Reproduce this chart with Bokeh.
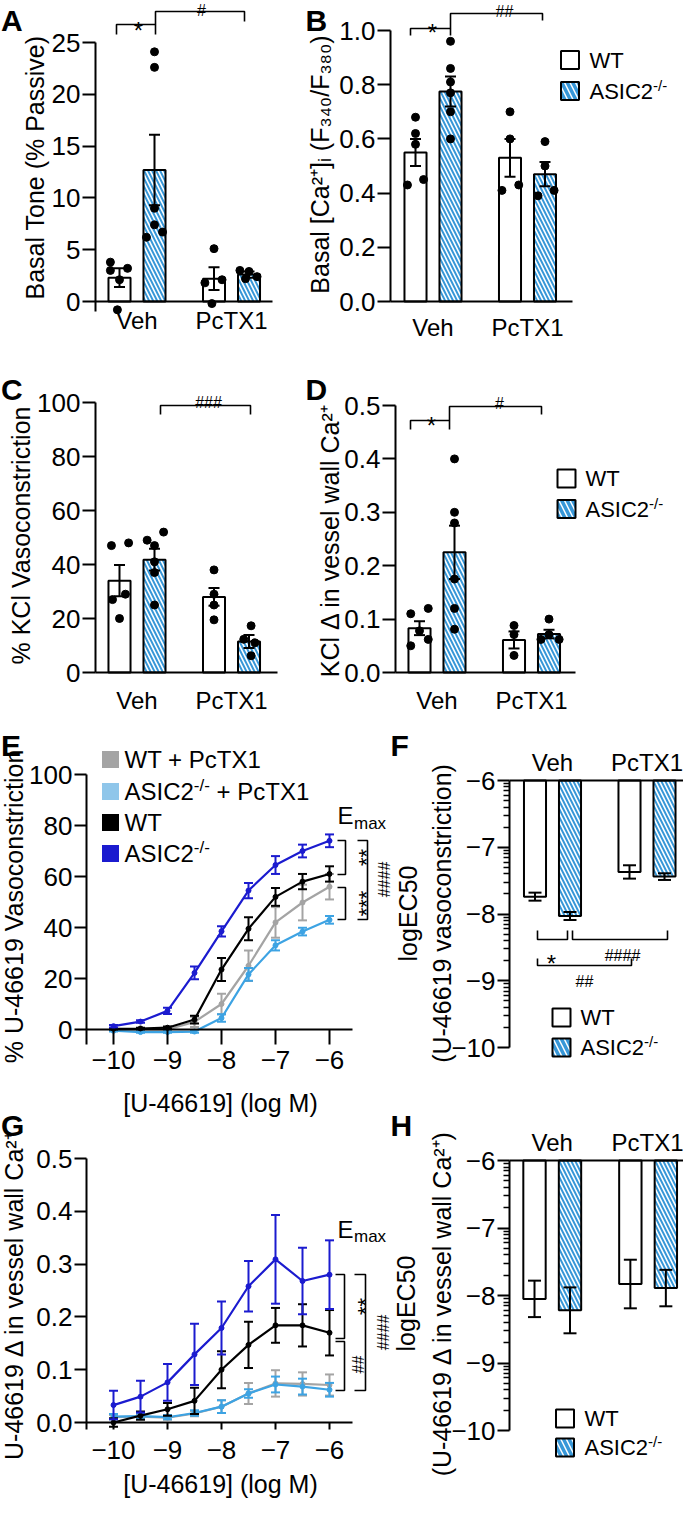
import math
from bokeh.plotting import figure
from bokeh.models import Range1d, LinearAxis, FixedTicker, NumeralTickFormatter
from bokeh.embed import file_html
from bokeh.resources import INLINE
from bokeh.core.properties import value

# ---------------------------------------------------------------- data
GROUPS = ["Veh", "PcTX1"]
BAR_NAMES = ["WT Veh", "ASIC2-/- Veh", "WT PcTX1", "ASIC2-/- PcTX1"]
PANEL_LETTERS = ["A", "B", "C", "D", "E", "F", "G", "H"]

# A: basal tone (% passive)
A_mean = [2.3, 12.7, 2.2, 2.6]
A_sem = [0.9, 3.4, 1.1, 0.3]
A_pts = [[3.8, 3.0, 3.2, 2.1, -0.8],
         [24.1, 22.6, 9.0, 7.4, 6.7, 6.2],
         [5.1, 2.1, 1.8, -0.2],
         [3.0, 2.9, 2.4, 2.2]]
A_yticks = [0, 5, 10, 15, 20, 25]

# B: basal [Ca2+]i (F340/F380)
B_mean = [0.55, 0.775, 0.53, 0.47]
B_sem = [0.05, 0.055, 0.07, 0.045]
B_pts = [[0.68, 0.62, 0.58, 0.43, 0.45],
         [0.96, 0.86, 0.81, 0.77, 0.70, 0.60],
         [0.70, 0.60, 0.41, 0.43],
         [0.59, 0.50, 0.39, 0.41]]
B_yticks = [0.0, 0.2, 0.4, 0.6, 0.8, 1.0]

# C: % KCl vasoconstriction
C_mean = [34.0, 41.8, 28.0, 11.5]
C_sem = [5.8, 4.0, 3.3, 2.4]
C_pts = [[47, 48, 29, 27, 20],
         [49, 47, 52, 37, 41, 25],
         [38, 29, 25, 19.5],
         [17.3, 12.3, 11, 6.2]]
C_yticks = [0, 20, 40, 60, 80, 100]

# D: KCl delta in vessel wall Ca2+
D_mean = [0.083, 0.225, 0.061, 0.072]
D_sem = [0.013, 0.05, 0.016, 0.008]
D_pts = [[0.11, 0.12, 0.078, 0.05, 0.062],
         [0.40, 0.30, 0.28, 0.175, 0.12, 0.081],
         [0.088, 0.071, 0.032],
         [0.10, 0.062, 0.062, 0.071]]
D_yticks = [0.0, 0.1, 0.2, 0.3, 0.4, 0.5]

# E: U-46619 concentration response (% vasoconstriction)
LOGM = [-10, -9.5, -9, -8.5, -8, -7.5, -7, -6.5, -6]
X_ticks = [-10, -9, -8, -7, -6]
SERIES = ["WT + PcTX1", "ASIC2-/- + PcTX1", "WT", "ASIC2-/-"]
E_wt_pc = [0.0, 0.0, 0.0, 3.0, 10.0, 25.0, 42.0, 49.8, 56.0]
E_wt_pc_sem = [0.3, 0.3, 0.5, 2.0, 4.0, 6.0, 6.0, 7.0, 5.0]
E_ko_pc = [-0.5, -1.0, -1.0, -0.8, 4.5, 21.6, 33.0, 38.4, 43.0]
E_ko_pc_sem = [0.3, 0.3, 0.3, 0.5, 1.5, 2.5, 2.0, 1.5, 1.5]
E_wt = [0.3, 0.4, 0.7, 3.9, 23.5, 39.5, 52.0, 58.0, 61.0]
E_wt_sem = [0.3, 0.3, 0.5, 1.5, 4.5, 4.5, 3.5, 3.0, 3.0]
E_ko = [1.3, 3.1, 7.3, 22.2, 38.5, 54.5, 64.5, 70.0, 74.0]
E_ko_sem = [0.5, 0.5, 1.2, 2.5, 2.0, 3.0, 3.5, 2.5, 2.5]
E_yticks = [0, 20, 40, 60, 80, 100]

# F: logEC50 (vasoconstriction)
F_mean = [-7.74, -8.03, -7.37, -7.44]
F_sem = [0.06, 0.06, 0.10, 0.05]
LOG_yticks = [-10, -9, -8, -7, -6]

# G: U-46619 delta in vessel wall Ca2+
G_wt_pc = [0.010, 0.011, 0.009, 0.017, 0.030, 0.055, 0.074, 0.073, 0.071]
G_wt_pc_sem = [0.004, 0.004, 0.004, 0.005, 0.012, 0.020, 0.025, 0.022, 0.020]
G_ko_pc = [0.011, 0.012, 0.010, 0.018, 0.030, 0.055, 0.072, 0.068, 0.062]
G_ko_pc_sem = [0.005, 0.005, 0.004, 0.005, 0.012, 0.008, 0.015, 0.015, 0.013]
G_wt = [0.0, 0.013, 0.025, 0.041, 0.100, 0.147, 0.184, 0.184, 0.170]
G_wt_sem = [0.008, 0.008, 0.012, 0.025, 0.035, 0.044, 0.033, 0.040, 0.043]
G_ko = [0.033, 0.049, 0.076, 0.129, 0.179, 0.258, 0.309, 0.268, 0.280]
G_ko_sem = [0.027, 0.030, 0.035, 0.058, 0.050, 0.048, 0.084, 0.063, 0.065]
G_yticks = [0.0, 0.1, 0.2, 0.3, 0.4, 0.5]

# H: logEC50 (delta in vessel wall Ca2+)
H_mean = [-8.05, -8.22, -7.83, -7.89]
H_sem = [0.27, 0.34, 0.36, 0.27]

# ---------------------------------------------------------------- layout / style
FONT = "Liberation Sans"
HATCH = "#3797d8"
GREY = "#a4a4a4"
LBLUE = "#3da3e3"
LBLUE_KEY = "#8fc6ea"
BLUE = "#1b1bcf"

PAGE_W, PAGE_H = 683, 1501
X0, Y0 = 8, 8
X1, Y1 = X0 + PAGE_W, Y0 + PAGE_H

BAR_X = [1.0, 2.0, 3.7, 4.7]
GROUP_X = [1.5, 4.2]
BAR_W = 0.63

A_jit = [[-0.26, -0.26, 0.23, 0.0, -0.06], [0, 0, 0, 0, 0.23, -0.23],
         [0.0, 0.23, -0.26, -0.06], [-0.26, 0.0, 0.23, -0.1]]
B_jit = [[0, 0, 0, -0.23, 0.23], [0, 0, 0, 0, 0, 0],
         [0, 0, -0.23, 0.25], [0, 0, -0.2, 0.26]]
C_jit = [[-0.23, 0.26, 0.17, -0.2, 0.0], [-0.21, 0, 0.26, 0, 0, 0],
         [0, 0, 0, 0], [0.06, -0.15, 0.17, 0.06]]
D_jit = [[-0.25, 0.25, 0, -0.25, 0.25], [0, 0, 0, 0, 0, 0],
         [0, 0, 0], [0, -0.23, 0.29, 0]]

LOG_MINOR = [a + math.log10(m) for a in (-10, -9, -8, -7) for m in range(2, 10)]

LETTER_POS = [(8.5, 28), (313, 28), (8.5, 397), (313, 397),
              (8.5, 753), (398, 753), (8.5, 1133), (398, 1133)]

AW = {' ': 278, '#': 556, '%': 889, '(': 333, ')': 333, '*': 389, '+': 584,
      '-': 333, '.': 278, '/': 278, 'A': 667, 'C': 722, 'E': 667, 'I': 278,
      'P': 667, 'S': 667, 'T': 611, 'W': 944, 'X': 667, 'a': 556, 'c': 500,
      'e': 556, 'h': 556, 'm': 833, 'x': 500}


def tw(s, fs):
    return sum(AW.get(c, 556) for c in s) * fs / 1000.0


def lin(v0, p0, v1, p1):
    k = (v1 - v0) / (p1 - p0)
    return lambda q: v0 + (q - p0) * k


# one canvas for the whole page; default ranges = page pixels (y negated)
FIG = figure(width=PAGE_W, height=PAGE_H, x_range=Range1d(X0, X1), y_range=Range1d(-Y1, -Y0),
             x_axis_type=None, y_axis_type=None, min_border=0,
             output_backend="svg", toolbar_location=None)
FIG.outline_line_color = None
FIG.background_fill_color = "white"
FIG.border_fill_color = "white"

EXTRA_X, EXTRA_Y = {}, {}


def txt(px, py, s, fs, align="left", baseline="alphabetic", angle=0.0, style="normal"):
    FIG.text(x=[px], y=[-py], text=[s], text_font=value(FONT), text_font_size=f"{fs}px",
             text_align=align, text_baseline=baseline, angle=angle, text_color="black",
             text_font_style=style)


def vlabel(px, py, s, fs=25):
    txt(px, py, s, fs, align="center", baseline="middle", angle=math.pi / 2)


def sig(px, ink_cy, s, fs, rot=False):
    k = 0.57 if "*" in s else 0.35
    if rot:
        txt(px + k * fs, ink_cy, s, fs, align="center", angle=math.pi / 2)
    else:
        txt(px, ink_cy + k * fs, s, fs, align="center")


def rich(px, py, parts, fs):
    x = px
    for s, kind in parts:
        if kind == "sup":
            f = round(fs * 0.7)
            txt(x, py - fs * 0.27, s, f, baseline="middle")
            x += tw(s, f)
        else:
            lead = len(s) - len(s.lstrip(" "))
            x += tw(" ", fs) * lead
            s = s.lstrip(" ")
            txt(x, py, s, fs, baseline="middle")
            x += tw(s, fs)


def poly(pts, lw=1.6):
    FIG.line(x=[a for a, _ in pts], y=[-b for _, b in pts], line_width=lw, line_color="black")


def key(cx, cy, size=18, fill="white", hatch=False, outline=True):
    kw = dict(fill_color=fill, line_color="black" if outline else None, line_width=2)
    if hatch:
        kw.update(hatch_pattern="left_diagonal_line", hatch_color=HATCH,
                  hatch_weight=3.5, hatch_scale=11)
    FIG.rect(x=[cx], y=[-cy], width=size, height=size, width_units="screen",
             height_units="screen", **kw)


def style_axis(ax, fs):
    ax.axis_line_width = 2
    ax.axis_line_color = "black"
    ax.major_tick_line_width = 2
    ax.major_tick_line_color = "black"
    ax.minor_tick_line_width = 1.5
    ax.minor_tick_line_color = "black"
    ax.major_label_text_font = FONT
    ax.major_label_text_font_size = f"{fs}px"
    ax.major_label_text_color = "black"
    ax.major_tick_in = 0
    ax.minor_tick_in = 0
    ax.minor_tick_out = 0


class Panel:
    count = 0

    def __init__(self, xcal, ycal):
        Panel.count += 1
        self.fx = lin(*xcal)
        self.fy = lin(*ycal)
        self.xn = f"x{Panel.count}"
        self.yn = f"y{Panel.count}"
        EXTRA_X[self.xn] = Range1d(self.fx(X0), self.fx(X1))
        EXTRA_Y[self.yn] = Range1d(self.fy(Y1), self.fy(Y0))
        self.rn = dict(x_range_name=self.xn, y_range_name=self.yn)

    def yaxis(self, x_px, ticks, lo, hi, fs=26, fmt=None, tick_len=13, standoff=2, minor=None):
        ax = LinearAxis(ticker=FixedTicker(ticks=ticks, minor_ticks=minor or []),
                        bounds=(lo, hi), fixed_location=self.fx(x_px), **self.rn)
        style_axis(ax, fs)
        ax.major_tick_out = tick_len
        ax.minor_tick_out = 6 if minor else 0
        ax.major_label_standoff = standoff
        if fmt:
            ax.formatter = NumeralTickFormatter(format=fmt)
        FIG.add_layout(ax, "left")

    def group_axis(self, loc, at, x0_px, x1_px, fs, standoff):
        ax = LinearAxis(ticker=FixedTicker(ticks=GROUP_X, minor_ticks=[]),
                        major_label_overrides={GROUP_X[0]: GROUPS[0], GROUP_X[1]: GROUPS[1]},
                        bounds=(self.fx(x0_px), self.fx(x1_px)), fixed_location=at, **self.rn)
        style_axis(ax, fs)
        ax.major_tick_out = 0
        ax.major_label_standoff = standoff
        FIG.add_layout(ax, loc)

    def logm_axis(self, x0_px, x1_px, tick_len, standoff, fs=26):
        ax = LinearAxis(ticker=FixedTicker(ticks=X_ticks, minor_ticks=[]),
                        bounds=(self.fx(x0_px), self.fx(x1_px)), fixed_location=0, **self.rn)
        style_axis(ax, fs)
        ax.major_tick_out = tick_len
        ax.major_label_standoff = standoff
        FIG.add_layout(ax, "below")

    def bars(self, means, sems, pts=None, jit=None, base=0.0, cap=11):
        for i, m in enumerate(means):
            kw = dict(fill_color="white", line_color="black", line_width=2)
            if i % 2 == 1:
                kw.update(hatch_pattern="left_diagonal_line", hatch_color=HATCH,
                          hatch_weight=2.0, hatch_scale=8)
            top, bottom = (m, base) if m > base else (base, m)
            FIG.vbar(x=[BAR_X[i]], width=BAR_W, top=[top], bottom=[bottom], **kw, **self.rn)
        if pts is not None:
            xs, ys = [], []
            for i, grp in enumerate(pts):
                for v, j in zip(grp, jit[i]):
                    xs.append(BAR_X[i] + j)
                    ys.append(v)
            FIG.scatter(x=xs, y=ys, size=8, fill_color="black", line_color="black", **self.rn)
        lo = [m - s for m, s in zip(means, sems)]
        hi = [m + s for m, s in zip(means, sems)]
        FIG.segment(x0=BAR_X, y0=lo, x1=BAR_X, y1=hi, line_width=2, line_color="black", **self.rn)
        FIG.scatter(x=BAR_X + BAR_X, y=lo + hi, marker="dash", size=cap, line_width=2,
                    line_color="black", **self.rn)

    def curve(self, vals, sems, color):
        FIG.line(x=LOGM, y=vals, line_width=2.2, line_color=color, **self.rn)
        lo = [v - s for v, s in zip(vals, sems)]
        hi = [v + s for v, s in zip(vals, sems)]
        FIG.segment(x0=LOGM, y0=lo, x1=LOGM, y1=hi, line_width=2, line_color=color, **self.rn)
        FIG.scatter(x=LOGM + LOGM, y=lo + hi, marker="dash", size=9, line_width=2,
                    line_color=color, **self.rn)
        FIG.scatter(x=LOGM, y=vals, size=5, fill_color=color, line_color=color, **self.rn)


ASIC = [("ASIC2", "n"), ("-/-", "sup")]

# ---------------------------------------------------------------- A
A = Panel((1, 127, 2, 162), (0, 309, 25, 50))
A.bars(A_mean, A_sem, A_pts, A_jit)
A.yaxis(103, A_yticks, A.fy(319), 25)
A.group_axis("below", 0, 103, 280, 24, 5)
vlabel(42, 175, "Basal Tone (% Passive)")
poly([(124, 42), (124, 32), (163, 32), (163, 42)])
poly([(163, 32), (163, 19), (252, 19), (252, 29)])
sig(146, 24, "*", 24)
sig(209, 12, "#", 16)

# ---------------------------------------------------------------- B
B = Panel((1, 423, 2, 458), (0, 309, 1, 38))
B.bars(B_mean, B_sem, B_pts, B_jit)
B.yaxis(398, B_yticks, 0, 1.0, fmt="0.0")
B.group_axis("below", 0, 398, 580, 24, 12)
vlabel(327, 172, "Basal [Ca²⁺]ᵢ (F₃₄₀/F₃₈₀)")
poly([(418, 43), (418, 36), (458, 36), (458, 43)])
poly([(458, 36), (458, 21), (550, 21), (550, 28)])
sig(440, 26, "*", 24)
sig(512, 13, "##", 16)
key(577.5, 67.5)
key(577.5, 98.5, hatch=True)
rich(597, 67.5, [("WT", "n")], 22)
rich(597, 98.5, ASIC, 22)

# ---------------------------------------------------------------- C
C = Panel((1, 127, 2, 162), (0, 680, 100, 410))
C.bars(C_mean, C_sem, C_pts, C_jit)
C.yaxis(103, C_yticks, 0, 100)
C.group_axis("below", 0, 103, 285, 24, 14)
vlabel(28, 543, "% KCl Vasoconstriction")
poly([(168, 422), (168, 413), (258, 413), (258, 422)])
sig(216, 404, "###", 16)

# ---------------------------------------------------------------- D
D = Panel((1, 427, 2, 462), (0, 680, 0.5, 413))
D.bars(D_mean, D_sem, D_pts, D_jit)
D.yaxis(403, D_yticks, 0, 0.5, fmt="0.0")
D.group_axis("below", 0, 403, 583, 24, 14)
vlabel(337, 548, "KCl Δ in vessel wall Ca²⁺")
poly([(418, 437), (418, 428), (457, 428), (457, 437)])
poly([(457, 428), (457, 414), (549, 414), (549, 422)])
sig(439, 419, "*", 24)
sig(507, 405, "#", 16)
key(574, 486)
key(574, 516.5, hatch=True)
rich(593, 486, [("WT", "n")], 22)
rich(593, 516.5, ASIC, 22)

# ---------------------------------------------------------------- E
E = Panel((-10, 121, -6, 337), (0, 1037, 100, 782))
for vals, sems, col in [(E_wt_pc, E_wt_pc_sem, GREY), (E_ko_pc, E_ko_pc_sem, LBLUE),
                        (E_wt, E_wt_sem, "black"), (E_ko, E_ko_sem, BLUE)]:
    E.curve(vals, sems, col)
E.yaxis(94, E_yticks, E.fy(1052), 100, tick_len=12, standoff=2)
E.logm_axis(94, 360, 15, 6)
vlabel(21, 914, "% U-46619 Vasoconstriction")
txt(228, 1110, "[U-46619] (log M)", 25, align="center", baseline="middle")
for cy, col, parts in [(767, GREY, [("WT + PcTX1", "n")]),
                       (799, LBLUE_KEY, ASIC + [(" + PcTX1", "n")]),
                       (830, "black", [("WT", "n")]),
                       (861, BLUE, ASIC)]:
    key(118, cy, size=17, fill=col, outline=False)
    rich(132, cy, parts, 24)
txt(345, 823, "E", 24)
txt(345 + tw("E", 24) + 0.5, 831, "max", 17)
poly([(345, 848), (353, 848), (353, 882), (345, 882)])
poly([(345, 895), (353, 895), (353, 927), (345, 927)])
poly([(365, 848), (375, 848), (375, 927), (365, 927)])
sig(361, 865, "**", 22, rot=True)
sig(361, 911, "***", 22, rot=True)
sig(386, 887, "####", 16, rot=True)

# ---------------------------------------------------------------- F
F = Panel((1, 542.5, 2, 577.5), (-6, 788, -10, 1055))
F.bars(F_mean, F_sem, base=-6, cap=13)
F.yaxis(517, LOG_yticks, -10, -6, tick_len=12, standoff=2, minor=LOG_MINOR)
F.group_axis("above", -6, 517, 691, 24, 5)
vlabel(415, 921, "logEC50")
vlabel(449, 921, "(U-46619 vasoconstriction)")
poly([(545, 938), (545, 947), (575, 947), (575, 938)])
poly([(580, 938), (580, 947), (675, 947), (675, 938)])
poly([(545, 966), (545, 973), (639, 973), (639, 966)])
sig(559, 957, "*", 24)
sig(630, 957, "####", 16)
sig(592, 983, "##", 16)
key(569, 1025)
key(569, 1055, hatch=True)
rich(588, 1025, [("WT", "n")], 22)
rich(588, 1055, ASIC, 22)

# ---------------------------------------------------------------- G
G = Panel((-10, 121, -6, 337), (0, 1430, 0.5, 1166))
for vals, sems, col in [(G_wt_pc, G_wt_pc_sem, GREY), (G_ko_pc, G_ko_pc_sem, LBLUE),
                        (G_wt, G_wt_sem, "black"), (G_ko, G_ko_sem, BLUE)]:
    G.curve(vals, sems, col)
G.yaxis(94, G_yticks, G.fy(1437), 0.5, fmt="0.0", tick_len=12, standoff=2)
G.logm_axis(94, 360, 7, 11)
vlabel(21, 1303, "U-46619 Δ in vessel wall Ca²⁺")
txt(228, 1491, "[U-46619] (log M)", 25, align="center", baseline="middle")
txt(345, 1237, "E", 24)
txt(345 + tw("E", 24) + 0.5, 1244, "max", 17)
poly([(343, 1282), (352, 1282), (352, 1346), (343, 1346)])
poly([(343, 1349), (352, 1349), (352, 1398), (343, 1398)])
poly([(362, 1282), (373, 1282), (373, 1398), (362, 1398)])
sig(360, 1314, "**", 22, rot=True)
sig(360, 1372, "##", 16, rot=True)
sig(385, 1340, "####", 16, rot=True)

# ---------------------------------------------------------------- H
H = Panel((1, 542, 2, 577.5), (-6, 1168, -10, 1438))
H.bars(H_mean, H_sem, base=-6, cap=13)
H.yaxis(517, LOG_yticks, -10, -6, tick_len=12, standoff=2, minor=LOG_MINOR)
H.group_axis("above", -6, 517, 691, 24, 5)
vlabel(413, 1311, "logEC50")
vlabel(449, 1311, "(U-46619 Δ in vessel wall Ca²⁺)")
key(572.5, 1426)
key(572.5, 1455, hatch=True)
rich(592, 1426, [("WT", "n")], 22)
rich(592, 1455, ASIC, 22)

# ---------------------------------------------------------------- panel letters
FIG.text(x=[q[0] for q in LETTER_POS], y=[-q[1] for q in LETTER_POS], text=PANEL_LETTERS,
         text_font=value(FONT), text_font_size="30px", text_font_style="bold",
         text_align="left", text_baseline="alphabetic", text_color="black")

FIG.extra_x_ranges = EXTRA_X
FIG.extra_y_ranges = EXTRA_Y

open("out.html", "w").write(file_html(FIG, INLINE))
